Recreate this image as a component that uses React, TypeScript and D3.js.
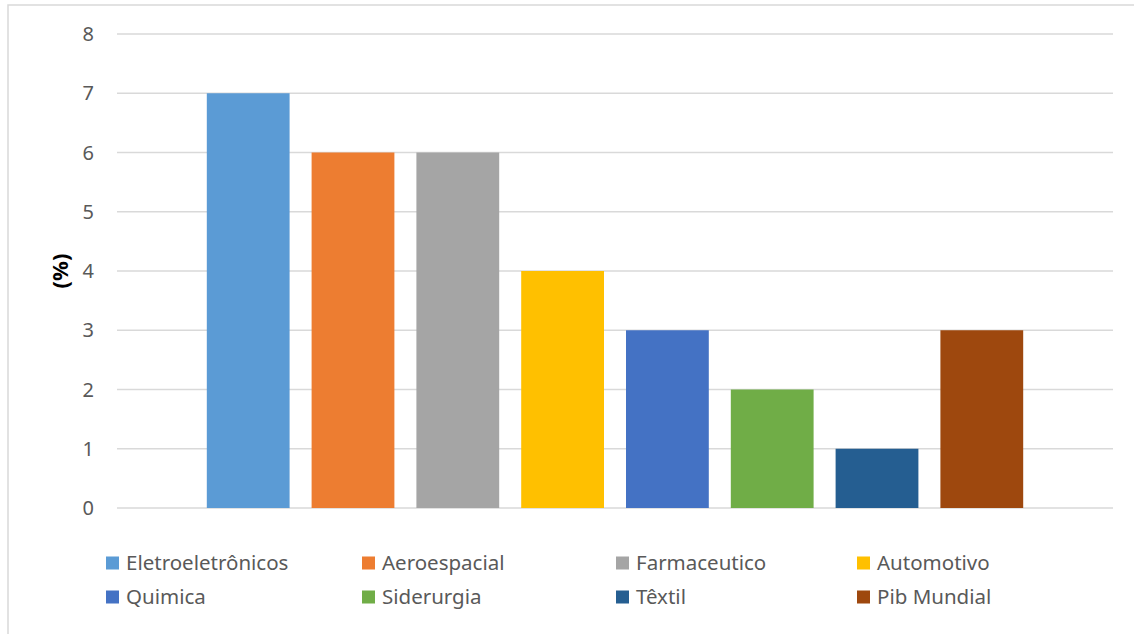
import * as d3 from 'd3';

const series = [
  'Eletroeletrônicos',
  'Aeroespacial',
  'Farmaceutico',
  'Automotivo',
  'Quimica',
  'Siderurgia',
  'Têxtil',
  'Pib Mundial',
];
const values = [7, 6, 6, 4, 3, 2, 1, 3];
const colors = [
  '#5B9BD5',
  '#ED7D31',
  '#A5A5A5',
  '#FFC000',
  '#4472C4',
  '#70AD47',
  '#255E91',
  '#9E480E',
];
const yTicks = [0, 1, 2, 3, 4, 5, 6, 7, 8];

const W = 1134;
const H = 634;
const plot = { left: 117, right: 1113, top: 34, bottom: 508 };
const font = "'Noto Sans', 'Open Sans', sans-serif";

export default function App() {
  const y = d3.scaleLinear().domain([0, 8]).range([plot.bottom, plot.top]);
  // one category spanning the plot, series grouped inside it
  const outer = d3
    .scaleBand<string>()
    .domain(['all'])
    .range([plot.left, plot.right])
    .paddingOuter(0.11);
  const x = d3
    .scaleBand<string>()
    .domain(series)
    .range([outer('all')!, outer('all')! + outer.bandwidth()])
    .paddingInner(0.21);

  const legendCols = [106, 362, 616, 857];
  const legendRows = [563, 597];

  return (
    <svg
      width={W}
      height={H}
      style={{ position: 'absolute', left: 0, top: 0, fontFamily: font }}
    >
      <rect x={0} y={0} width={W} height={H} fill="#fff" />
      <rect
        x={8}
        y={5}
        width={W + 10}
        height={H + 10}
        fill="none"
        stroke="#D9D9D9"
        strokeWidth={1.5}
      />

      {/* gridlines + tick labels */}
      {yTicks.map((t) => (
        <g key={t}>
          <line
            x1={plot.left}
            x2={plot.right}
            y1={y(t)}
            y2={y(t)}
            stroke="#D9D9D9"
            strokeWidth={1.5}
          />
          <text
            x={94}
            y={y(t)}
            dy="0.35em"
            textAnchor="end"
            fontSize={20}
            fill="#595959"
          >
            {t}
          </text>
        </g>
      ))}

      <text
        transform={`translate(60,${(plot.top + plot.bottom) / 2}) rotate(-90)`}
        textAnchor="middle"
        dy="0.35em"
        fontSize={22}
        fontWeight="bold"
        fill="#000"
      >
        (%)
      </text>

      {/* bars */}
      {series.map((s, i) => (
        <rect
          key={s}
          x={x(s)}
          y={y(values[i])}
          width={x.bandwidth()}
          height={y(0) - y(values[i])}
          fill={colors[i]}
        />
      ))}

      {/* legend */}
      {series.map((s, i) => {
        const cx = legendCols[i % 4];
        const cy = legendRows[Math.floor(i / 4)];
        return (
          <g key={s} transform={`translate(${cx},${cy})`}>
            <rect x={0} y={-6.5} width={13} height={13} fill={colors[i]} />
            <text x={20} y={0} dy="0.35em" fontSize={20.5} fill="#595959">
              {s}
            </text>
          </g>
        );
      })}
    </svg>
  );
}
